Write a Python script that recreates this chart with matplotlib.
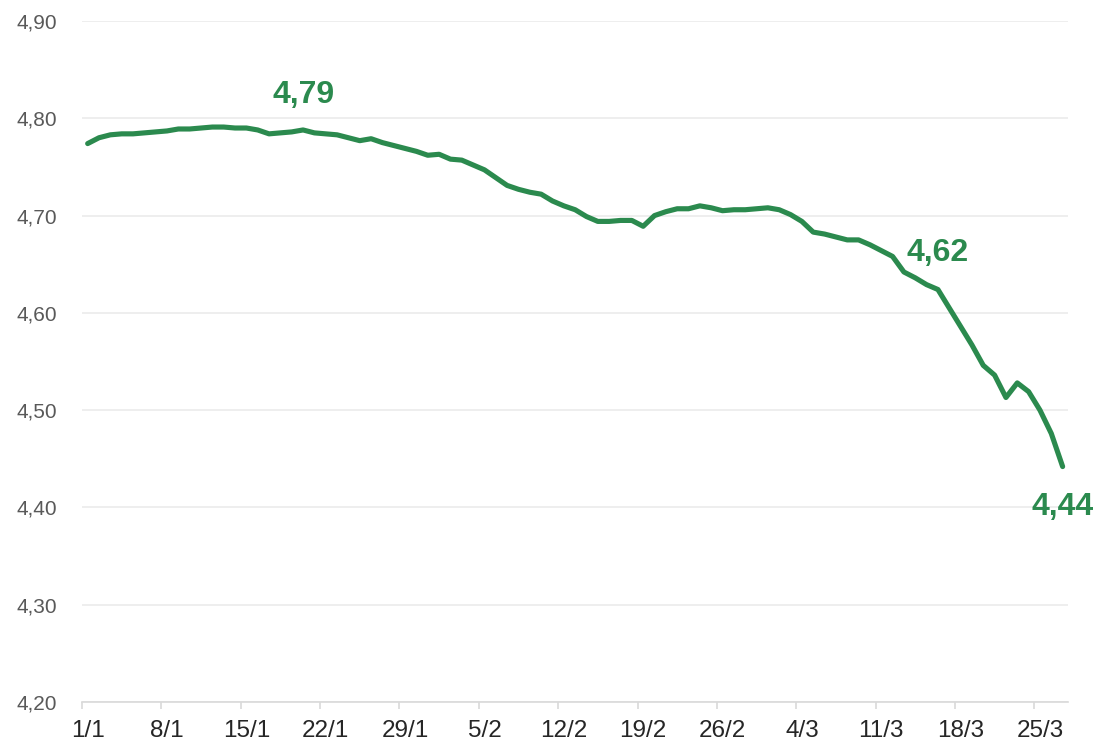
import numpy as np
import matplotlib.pyplot as plt
from matplotlib.ticker import FixedLocator, FuncFormatter

plt.rcParams['font.family'] = ['Liberation Sans', 'DejaVu Sans']

# daily values 1/1 .. 27/3 (leap year)
values = [
    4.774, 4.780, 4.783, 4.784, 4.784, 4.785, 4.786, 4.787, 4.789, 4.789,
    4.790, 4.791, 4.791, 4.790, 4.790, 4.788, 4.784, 4.785, 4.786, 4.788,
    4.785, 4.784, 4.783, 4.780, 4.777, 4.779, 4.775, 4.772, 4.769, 4.766,
    4.762, 4.763, 4.758, 4.757, 4.752, 4.747, 4.739, 4.731, 4.727, 4.724,
    4.722, 4.715, 4.710, 4.706, 4.699, 4.694, 4.694, 4.695, 4.695, 4.689,
    4.700, 4.704, 4.707, 4.707, 4.710, 4.708, 4.705, 4.706, 4.706, 4.707,
    4.708, 4.706, 4.701, 4.694, 4.683, 4.681, 4.678, 4.675, 4.675, 4.670,
    4.664, 4.658, 4.642, 4.636, 4.629, 4.624, 4.605, 4.586, 4.567, 4.546,
    4.536, 4.513, 4.528, 4.519, 4.500, 4.476, 4.442,
]
tick_labels = ['1/1', '8/1', '15/1', '22/1', '29/1', '5/2', '12/2',
               '19/2', '26/2', '4/3', '11/3', '18/3', '25/3']
# (index, text, offset in points)
callouts = [(19, '4,79', 25), (75, '4,62', 26), (86, '4,44', -29)]

green = '#2b8a4e'
x = np.arange(len(values))

fig = plt.figure(figsize=(10.94, 7.46), dpi=100)
ax = fig.add_axes([82/1094, 1-702/746, (1068.3-82)/1094, (702-21)/746])

ax.plot(x, values, color=green, lw=3.7, solid_joinstyle='round',
        solid_capstyle='round', zorder=3)

ax.set_xlim(-0.5, len(values) - 0.5)
ax.set_ylim(4.20, 4.90)

yt = np.round(np.arange(4.2, 4.91, 0.1), 2)
ax.set_yticks(yt)
ax.yaxis.set_major_formatter(FuncFormatter(lambda v, p: ('%.2f' % v).replace('.', ',')))
ax.grid(axis='y', color='#ebebeb', lw=1.2, zorder=0)
ax.tick_params(axis='y', length=0, pad=18, labelsize=15, labelcolor='#595959')

# category axis: ticks between days, labels on day centres
ax.xaxis.set_major_locator(FixedLocator(np.arange(len(tick_labels)) * 7 - 0.5))
ax.xaxis.set_minor_locator(FixedLocator(np.arange(len(tick_labels)) * 7))
ax.set_xticklabels([], minor=False)
ax.set_xticklabels(tick_labels, minor=True)
ax.tick_params(axis='x', which='major', length=5, width=1.2, color='#d9d9d9')
ax.tick_params(axis='x', which='minor', length=0, pad=13, labelsize=17.5, labelcolor='#262626')

for s in ['top', 'right', 'left']:
    ax.spines[s].set_visible(False)
ax.spines['bottom'].set_color('#d9d9d9')
ax.spines['bottom'].set_linewidth(1.2)

for i, txt, off in callouts:
    ax.annotate(txt, (x[i], values[i]), xytext=(0, off), textcoords='offset points',
                ha='center', va='center', color=green, fontsize=23,
                fontweight='bold', annotation_clip=False)

fig.savefig('out.png', dpi=100)
